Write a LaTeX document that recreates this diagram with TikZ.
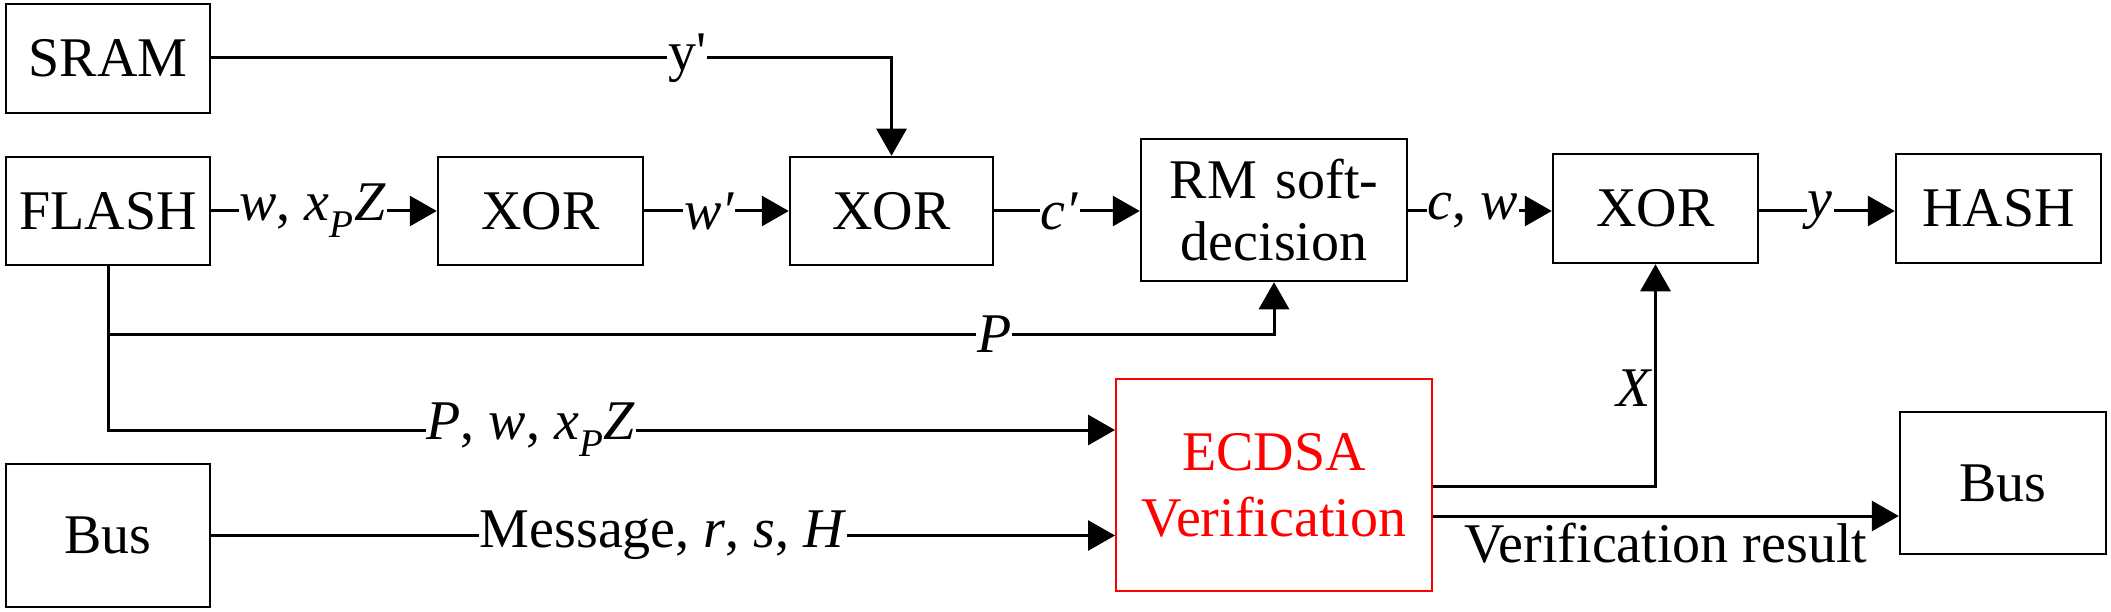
\documentclass[tikz,border=0pt]{standalone}
\usepackage{fontspec}
\setmainfont{Liberation Serif}
\newfontfamily\tms{Liberation Serif}
\usetikzlibrary{arrows.meta}
\begin{document}
\begin{tikzpicture}[x=1pt,y=-1pt,
  box/.style={draw,line width=2.5pt,inner sep=0pt,align=center},
  ln/.style={line width=3pt},
  ar/.style={ln,-{Triangle[length=27pt,width=30pt]}},
  lab/.style={fill=white,inner sep=1pt},
  every node/.style={font=\tms\fontsize{56}{60}\selectfont}]
\useasboundingbox (0,0) rectangle (2111,612);
\newcommand{\bx}[5]{\node[box,minimum width=#4-#2,minimum height=#5-#3] (#1) at ({(#2+#4)/2},{(#3+#5)/2}) {};}
\newcommand{\pr}{\symbol{"2032}}
\bx{sram}{6}{4}{210}{113}
\bx{flash}{6}{157}{210}{265}
\bx{xa}{438}{157}{643}{265}
\bx{xb}{790}{157}{993}{265}
\bx{rm}{1141}{139}{1407}{281}
\bx{xc}{1553}{154}{1758}{263}
\bx{hash}{1896}{154}{2101}{263}
\bx{bus}{6}{464}{210}{607}
\bx{bus2}{1900}{412}{2106}{554}
\node[box,draw=red,minimum width=316,minimum height=212,line width=2pt] (ec) at (1274,485) {};
\node at (sram) {SRAM};
\node at (flash) {FLASH};
\node at (xa) {XOR};
\node at (xb) {XOR};
\node[align=center,text width=250pt,font=\tms\fontsize{56}{62}\selectfont] at (rm) {RM soft-\\decision};
\node at (xc) {XOR};
\node at (hash) {HASH};
\node at (bus) {Bus};
\node at (bus2) {Bus};
\node[text=red,align=center,font=\tms\fontsize{56}{66}\selectfont] at (ec) {ECDSA\\Verification};
% connectors
\draw[ar] (sram.east |- 0,58) -| node[lab,pos=0.35]{y\symbol{"27}} (xb.north);
\draw[ar] (flash) -- node[lab,pos=0.45]{\textit{w}, \textit{x}\textsubscript{\textit{P}}\textit{Z}} (xa);
\draw[ar] (xa) -- node[lab,pos=0.45]{\textit{w\pr}} (xb);
\draw[ar] (xb.east |- 0,211) -- node[lab,pos=0.45]{\textit{c\pr}} (rm.west |- 0,211);
\draw[ar] (rm.east |- 0,211) -- node[lab,pos=0.45]{\textit{c}, \textit{w}} (xc.west |- 0,211);
\draw[ar] (xc.east |- 0,211) -- node[lab,pos=0.45]{\textit{y}} (hash.west |- 0,211);
\coordinate (fv) at (108,265);
\coordinate (pj) at (108,334);
\draw[ar] (fv) -- (108,430) -- node[lab,pos=0.42]{\textit{P}, \textit{w}, \textit{x}\textsubscript{\textit{P}}\textit{Z}} (ec.west |- 0,430);
\draw[ar] (pj) -| node[lab,pos=0.38]{\textit{P}} (rm.south);
\draw[ar] (bus) -- node[lab,pos=0.5]{Message, \textit{r}, \textit{s}, \textit{H}} (ec.west |- bus);
\draw[ar] (ec.east |- 0,486) -| node[pos=0.72,left=-2pt]{\textit{X}} (xc.south);
\draw[ar] (ec.east |- 0,516) -- node[below=2pt,pos=0.5]{Verification result} (bus2.west |- 0,516);
\end{tikzpicture}
\end{document}
